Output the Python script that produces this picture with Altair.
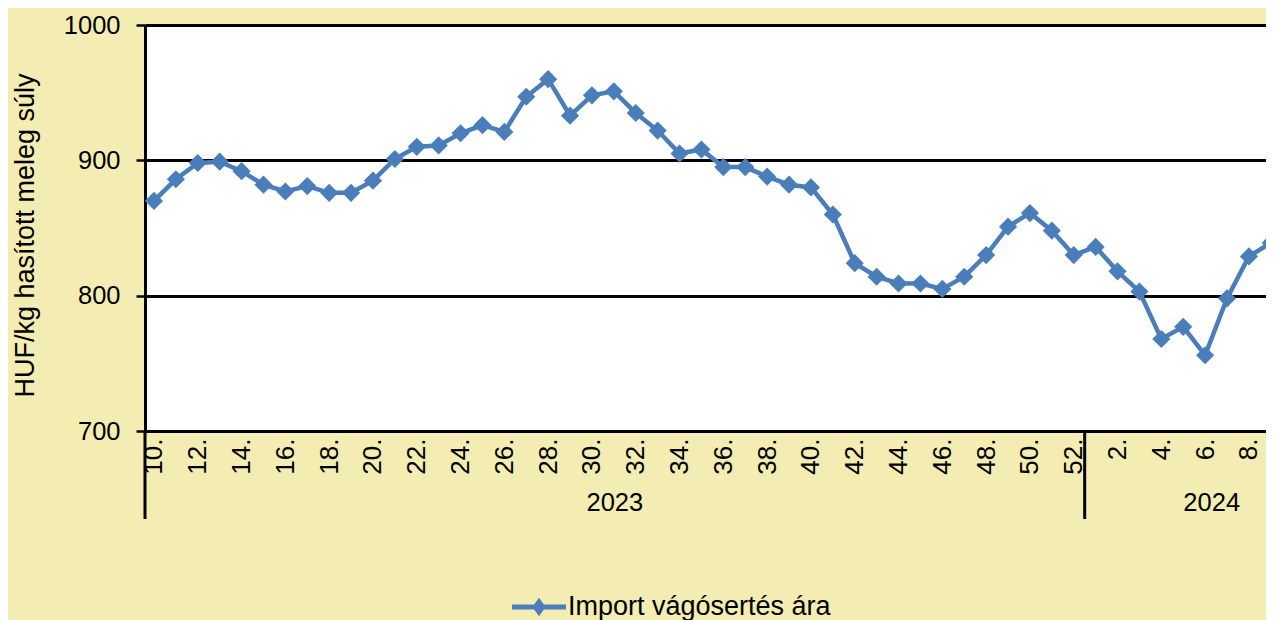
import altair as alt
import pandas as pd

# ---- data ----
weeks_2023 = list(range(10, 53))
weeks_2024 = list(range(1, 10))
prices_2023 = [870, 886, 898, 899, 892, 882, 877, 881, 876, 876,
               885, 901, 910, 911, 920, 926, 921, 947, 960, 933,
               948, 951, 935, 922, 905, 908, 895, 895, 888, 882,
               880, 860, 824, 814, 809, 809, 805, 814, 830, 851,
               861, 848, 830]
prices_2024 = [836, 818, 803, 768, 777, 756, 798, 829, 839]
years = ["2023", "2024"]
series_name = "Import vágósertés ára"
y_ticks = [700, 800, 900, 1000]

weeks = weeks_2023 + weeks_2024
prices = prices_2023 + prices_2024
year_of = [years[0]] * len(weeks_2023) + [years[1]] * len(weeks_2024)
idx = list(range(len(weeks)))
week_labels = [f"{w}." for w in weeks]

df = pd.DataFrame({"i": idx, "week": weeks, "year": year_of,
                   "price": prices, "series": series_name})

X_MIN, X_MAX = -0.41, 50.78
W, H = 1121, 406
BLUE = "#4A7EBB"
BG = "#F4EDB3"
FONT = "Liberation Sans"

# group boundaries (between week 52 and week 1), 2024 group continues beyond view
split = len(weeks_2023) - 0.5
bounds = [X_MIN, split, 2 * 48.3 - split]
sep_df = pd.DataFrame({"pos": bounds[:2]})
year_df = pd.DataFrame({"year": years,
                        "center": [(bounds[0] + bounds[1]) / 2, (bounds[1] + bounds[2]) / 2]})

label_vals = [i for i, w in zip(idx, weeks) if w % 2 == 0]
label_expr = "[" + ",".join(f"'{s}'" for s in week_labels) + "][datum.value]"

xscale = alt.Scale(domain=[X_MIN, X_MAX], nice=False, zero=False)
yscale = alt.Scale(domain=[700, 1000], nice=False, zero=False)

x_enc = alt.X("i:Q", scale=xscale, title=None,
              axis=alt.Axis(values=label_vals, labelExpr=label_expr, labelAngle=270,
                            labelFontSize=26, labelPadding=7, ticks=False, grid=False,
                            domainColor="black", domainWidth=3, labelColor="black",
                            labelOverlap=False, labelFlush=False, labelFont=FONT))
y_enc = alt.Y("price:Q", scale=yscale, title="HUF/kg hasított meleg súly",
              axis=alt.Axis(values=y_ticks, format="d", grid=True, gridColor="black",
                            gridWidth=3, domainColor="black", domainWidth=3,
                            tickColor="black", tickWidth=2.5, tickSize=9,
                            labelFontSize=25.5, labelPadding=16,
                            labelColor="black", labelFont=FONT, titleFont=FONT,
                            titleFontSize=27, titleFontWeight="normal", titleColor="black",
                            titlePadding=24, titleY=210))

base = alt.Chart(df)
line = base.mark_line(color=BLUE, strokeWidth=4.5, clip=True).encode(x=x_enc, y=y_enc)

legend_symbol = "M-1,-0.09L1,-0.09L1,0.09L-1,0.09Z M0,-0.34L0.25,0L0,0.34L-0.25,0Z"
points = base.mark_point(shape="diamond", filled=True, size=330, opacity=1, clip=True).encode(
    x="i:Q", y="price:Q",
    color=alt.Color("series:N", scale=alt.Scale(range=[BLUE]),
                    legend=alt.Legend(title=None, orient="none", legendX=367, legendY=555,
                                      symbolType=legend_symbol, symbolSize=2916,
                                      symbolStrokeWidth=0, symbolOpacity=1,
                                      labelFontSize=27, labelFont=FONT, labelColor="black",
                                      labelOffset=2, padding=0, labelLimit=600)))

seps = alt.Chart(sep_df).mark_rule(color="black", strokeWidth=3, clip=False).encode(
    x="pos:Q", y=alt.value(H), y2=alt.value(H + 88))

year_text = alt.Chart(year_df).mark_text(font=FONT, fontSize=25.5, color="black",
                                         baseline="middle", clip=False).encode(
    x="center:Q", y=alt.value(478), text="year:N")

chart = alt.layer(line, points, seps, year_text).properties(
    width=W, height=H,
    autosize=alt.AutoSizeParams(type="none"),
    padding={"left": 137, "top": 17, "right": 0, "bottom": 189},
    background=BG,
).configure_view(fill="white", stroke=None)

chart.save("out.html", embed_options={"renderer": "svg", "actions": False})
